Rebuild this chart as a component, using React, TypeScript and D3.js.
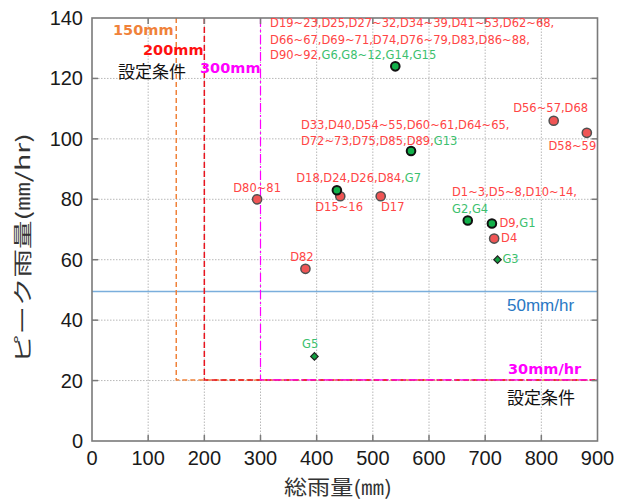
import React from "react";
import * as d3 from "d3";

const xTicks = [0, 100, 200, 300, 400, 500, 600, 700, 800, 900];
const yTicks = [0, 20, 40, 60, 80, 100, 120, 140];

// points: [totalRain mm, peak mm/hr]
const redPoints: [number, number][] = [
  [294, 80], [380, 57], [442, 81], [514, 81], [716, 67], [822, 106], [881, 102],
];
const greenPoints: [number, number][] = [
  [540, 124], [568, 96], [436, 83], [669, 73], [712, 72],
];
const greenDiamonds: [number, number][] = [
  [722, 60], [396, 28],
];

const thresholdTotal = [150, 200, 300];
const thresholdPeak = 20.2;
const line50 = 49.5;

// label segments: [text, colorKey]
type Seg = [string, "r" | "g"];
const labels: { at: [number, number]; anchor: "start" | "middle"; segs: Seg[] }[] = [
  { at: [317, 138.4], anchor: "start", segs: [["D19~23,D25,D27~32,D34~39,D41~53,D62~68,", "r"]] },
  { at: [317, 132.7], anchor: "start", segs: [["D66~67,D69~71,D74,D76~79,D83,D86~88,", "r"]] },
  { at: [317, 127.8], anchor: "start", segs: [["D90~92,", "r"], ["G6,G8~12,G14,G15", "g"]] },
  { at: [749.9, 110.2], anchor: "start", segs: [["D56~57,D68", "r"]] },
  { at: [372, 104.6], anchor: "start", segs: [["D33,D40,D54~55,D60~61,D64~65,", "r"]] },
  { at: [372, 99.4], anchor: "start", segs: [["D72~73,D75,D85,D89,", "r"], ["G13", "g"]] },
  { at: [812.7, 97.6], anchor: "start", segs: [["D58~59", "r"]] },
  { at: [363.6, 87.0], anchor: "start", segs: [["D18,D24,D26,D84,", "r"], ["G7", "g"]] },
  { at: [397.4, 77.5], anchor: "start", segs: [["D15~16", "r"]] },
  { at: [514.5, 77.5], anchor: "start", segs: [["D17", "r"]] },
  { at: [641, 82.5], anchor: "start", segs: [["D1~3,D5~8,D10~14,", "r"]] },
  { at: [641, 76.8], anchor: "start", segs: [["G2,G4", "g"]] },
  { at: [725.4, 72.2], anchor: "start", segs: [["D9,", "r"], ["G1", "g"]] },
  { at: [728.4, 67.2], anchor: "start", segs: [["D4", "r"]] },
  { at: [730.7, 60.2], anchor: "start", segs: [["G3", "g"]] },
  { at: [373.7, 60.9], anchor: "middle", segs: [["D82", "r"]] },
  { at: [294, 83.7], anchor: "middle", segs: [["D80~81", "r"]] },
  { at: [388.5, 32.1], anchor: "middle", segs: [["G5", "g"]] },
];

const W = 621;
const H = 504;
const RED_TXT = "#ff4545";
const GREEN_TXT = "#3cbf6e";

export default function App() {
  const x = d3.scaleLinear().domain([0, 900]).range([92, 597.5]);
  const y = d3.scaleLinear().domain([0, 140]).range([441, 18]);
  const x0 = x(0), x1 = x(900), y0 = y(0), y1 = y(140);
  const diamond = d3.symbol().type(d3.symbolSquare).size(28)();
  const cjk = "'Noto Sans CJK JP', sans-serif";
  const lbl = "'DejaVu Sans', sans-serif";
  const num = "'Liberation Sans', Arial, sans-serif";

  const thrColors = ["#f0823a", "#e8141e", "#ff00ff"];
  const thrDash = ["5,3", "6,3", "9,3,2,3"];

  return (
    <svg width={W} height={H} style={{ position: "absolute", left: 0, top: 0, background: "#fff" }}>
      {/* grid */}
      {xTicks.slice(1, -1).map((t) => (
        <line key={"gx" + t} x1={x(t)} x2={x(t)} y1={y0} y2={y1} stroke="#b8b8b8" strokeWidth={1} strokeDasharray="1.5,1.5" />
      ))}
      {yTicks.slice(1, -1).map((t) => (
        <line key={"gy" + t} x1={x0} x2={x1} y1={y(t)} y2={y(t)} stroke="#b8b8b8" strokeWidth={1} strokeDasharray="1.5,1.5" />
      ))}
      {/* blue 50mm/hr line */}
      <line x1={x0} x2={x1} y1={y(line50)} y2={y(line50)} stroke="#7aaedc" strokeWidth={1.5} />
      {/* threshold lines */}
      {thresholdTotal.map((t, i) => (
        <path
          key={"th" + t}
          d={`M${x(t)},${y1}L${x(t)},${y(thresholdPeak)}L${x1},${y(thresholdPeak)}`}
          fill="none"
          stroke={thrColors[i]}
          strokeWidth={i === 2 ? 1.2 : 1.5}
          strokeDasharray={thrDash[i]}
        />
      ))}
      {/* frame */}
      <rect x={x0} y={y1} width={x1 - x0} height={y0 - y1} fill="none" stroke="#7a7a7a" strokeWidth={1.6} />
      {/* ticks */}
      {xTicks.slice(1, -1).map((t) => (
        <g key={"tx" + t}>
          <line x1={x(t)} x2={x(t)} y1={y0} y2={y0 - 6} stroke="#7a7a7a" strokeWidth={1.5} />
          <line x1={x(t)} x2={x(t)} y1={y1} y2={y1 + 6} stroke="#7a7a7a" strokeWidth={1.5} />
        </g>
      ))}
      {yTicks.slice(1, -1).map((t) => (
        <g key={"ty" + t}>
          <line x1={x0} x2={x0 + 6} y1={y(t)} y2={y(t)} stroke="#7a7a7a" strokeWidth={1.5} />
          <line x1={x1} x2={x1 - 6} y1={y(t)} y2={y(t)} stroke="#7a7a7a" strokeWidth={1.5} />
        </g>
      ))}
      {/* tick labels */}
      {xTicks.map((t) => (
        <text key={"lx" + t} x={x(t)} y={465} textAnchor="middle" fontFamily={num} fontSize={20} fill="#1a1a1a">
          {t}
        </text>
      ))}
      {yTicks.map((t) => (
        <text key={"ly" + t} x={83} y={y(t) + 7} textAnchor="end" fontFamily={num} fontSize={20} fill="#1a1a1a">
          {t}
        </text>
      ))}
      {/* axis titles */}
      <text x={338} y={495} textAnchor="middle" fontFamily={cjk} fontSize={20} fill="#333" textLength={108} lengthAdjust="spacingAndGlyphs">
        総雨量(㎜)
      </text>
      <text
        transform={`translate(30,248) rotate(-90)`}
        textAnchor="middle"
        fontFamily={cjk}
        fontSize={19}
        fill="#333"
        textLength={230}
        lengthAdjust="spacingAndGlyphs"
      >
        ピーク雨量(㎜/hr)
      </text>
      {/* points */}
      {redPoints.map(([a, b], i) => (
        <circle key={"r" + i} cx={x(a)} cy={y(b)} r={4.6} fill="#f05555" stroke="#505050" strokeWidth={1.5} />
      ))}
      {greenPoints.map(([a, b], i) => (
        <circle key={"g" + i} cx={x(a)} cy={y(b)} r={4.3} fill="#12b04a" stroke="#111" strokeWidth={2} />
      ))}
      {greenDiamonds.map(([a, b], i) => (
        <path key={"d" + i} d={diamond || ""} transform={`translate(${x(a)},${y(b)}) rotate(45)`} fill="#12a040" stroke="#222" strokeWidth={1.2} />
      ))}
      {/* point labels */}
      {labels.map((l, i) => (
        <text
          key={"pl" + i}
          x={x(l.at[0])}
          y={y(l.at[1])}
          textAnchor={l.anchor}
          dominantBaseline="central"
          fontFamily={lbl}
          fontSize={11.5}
        >
          {l.segs.map(([s, c], j) => (
            <tspan key={j} fill={c === "r" ? RED_TXT : GREEN_TXT}>
              {s}
            </tspan>
          ))}
        </text>
      ))}
      {/* threshold annotations */}
      <text x={113} y={30} dominantBaseline="central" fontFamily={lbl} fontWeight="bold" fontSize={14.5} fill="#f0823a">150mm</text>
      <text x={143} y={50} dominantBaseline="central" fontFamily={lbl} fontWeight="bold" fontSize={14.5} fill="#ff1010">200mm</text>
      <text x={118} y={70} dominantBaseline="central" fontFamily={cjk} fontSize={17} fill="#111">設定条件</text>
      <text x={200} y={68} dominantBaseline="central" fontFamily={lbl} fontWeight="bold" fontSize={14.5} fill="#ff00ff">300mm</text>
      <text x={507} y={305} dominantBaseline="central" fontFamily={num} fontSize={17} fill="#2a78c4">50mm/hr</text>
      <text x={508} y={369} dominantBaseline="central" fontFamily={lbl} fontWeight="bold" fontSize={14.5} fill="#ff00ff">30mm/hr</text>
      <text x={507} y={396} dominantBaseline="central" fontFamily={cjk} fontSize={17} fill="#111">設定条件</text>
    </svg>
  );
}
